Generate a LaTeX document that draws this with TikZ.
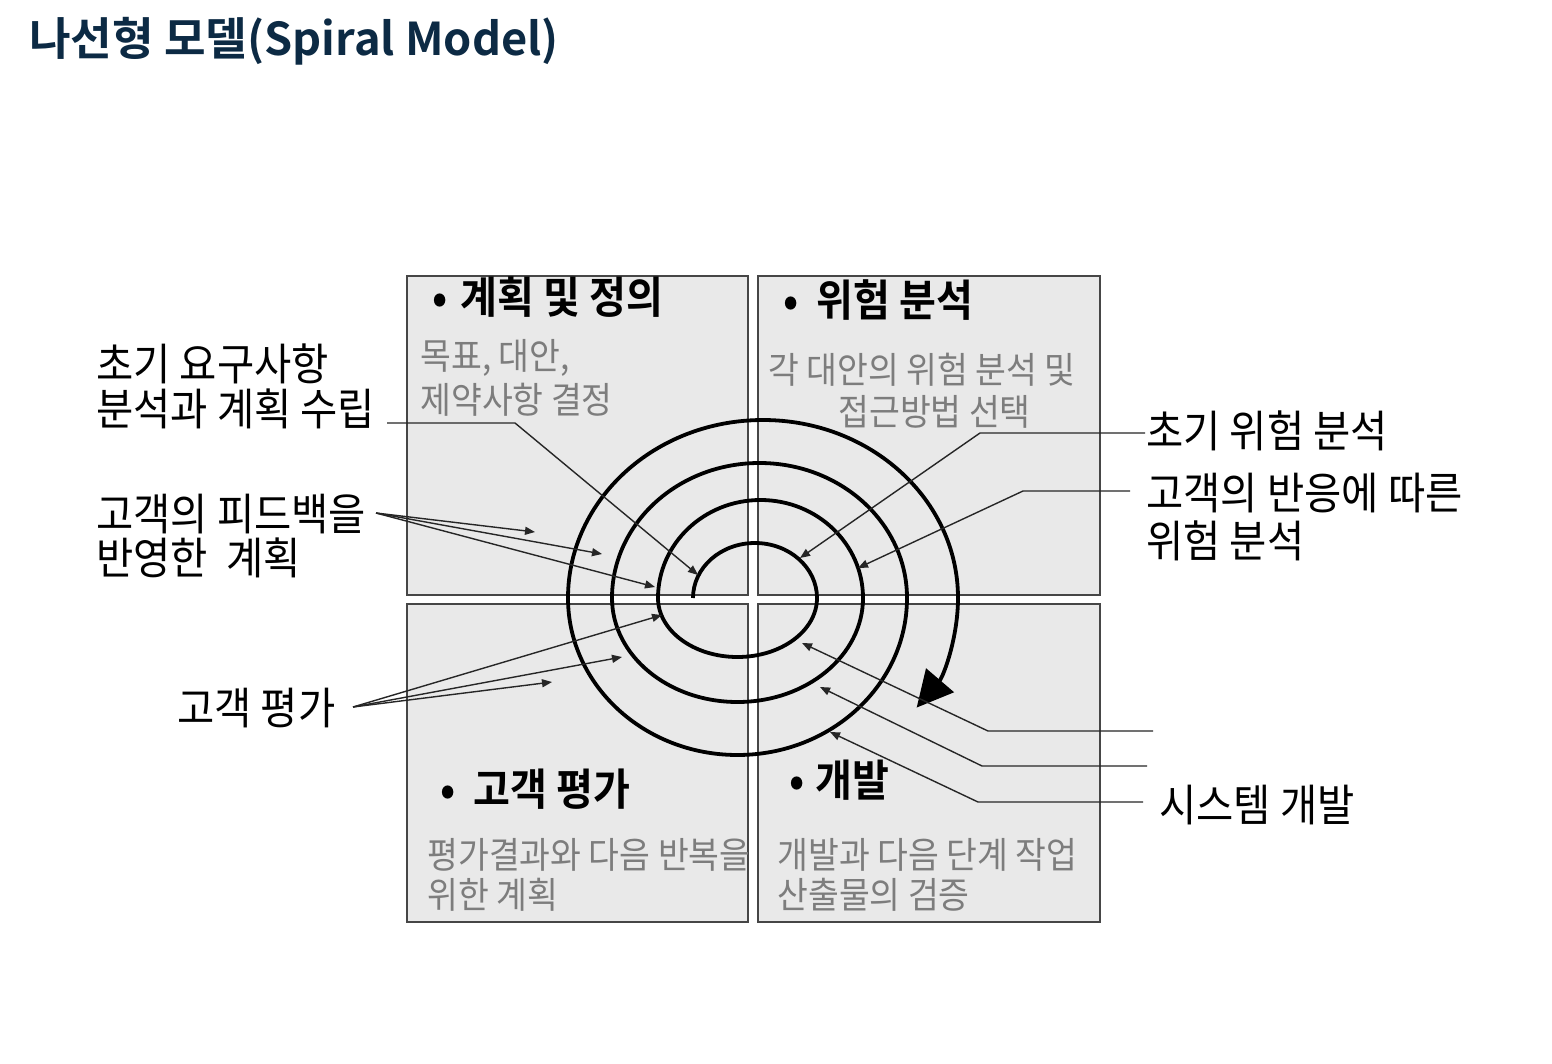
\documentclass[tikz,border=0pt]{standalone}
\usepackage{fontspec}
\usetikzlibrary{arrows.meta}
\newfontfamily\titlefont[BoldFont={* Bold}]{Noto Sans CJK KR}
\newfontfamily\krfont[FakeStretch=0.92,BoldFont={* Bold}]{Noto Sans CJK KR}
\definecolor{navy}{RGB}{12,42,68}
\definecolor{boxfill}{RGB}{233,233,233}
\definecolor{boxline}{RGB}{70,70,70}
\definecolor{graytext}{RGB}{125,125,125}
\tikzset{
  box/.style={draw=boxline, fill=boxfill, line width=0.75pt},
  lbl/.style={font=\krfont\fontsize{22pt}{24pt}\selectfont, anchor=base west, inner sep=0pt, text=black},
  gtxt/.style={font=\krfont\fontsize{18.2pt}{20pt}\selectfont, anchor=base west, inner sep=0pt, text=graytext},
  btitle/.style={font=\krfont\bfseries\fontsize{21.8pt}{24pt}\selectfont, anchor=base west, inner sep=0pt, text=black},
  conn/.style={line width=0.7pt, draw=black!85},
  arr/.style={conn, -{Triangle[length=5pt,width=4pt]}},
  spiral/.style={line width=1.9pt, -{Triangle[length=18pt,width=18pt]}}
}
\begin{document}
\begin{tikzpicture}[x=0.5pt,y=-0.5pt]
\useasboundingbox (0,0) rectangle (1552,1064);
\fill[white] (0,0) rectangle (1552,1064);
% title
\node[font=\titlefont\bfseries\fontsize{22.6pt}{26pt}\selectfont, text=navy, anchor=base west, inner sep=0pt] (title) at (29,56) {나선형 모델(Spiral Model)};
% boxes
\draw[box] (407,276) rectangle (748,595);
\draw[box] (758,276) rectangle (1100,595);
\draw[box] (407,604) rectangle (748,922);
\draw[box] (758,604) rectangle (1100,922);
% box texts
\node[btitle] (t1) at (432,314) {•\hspace{2pt} 계획 및 정의};
\node[gtxt] (g1a) at (420,369) {목표, 대안,};
\node[gtxt] (g1b) at (420,413) {제약사항 결정};
\node[btitle] (t2) at (783,316) {•\hspace{4.5pt} 위험 분석};
\node[gtxt] (g2a) at (768,383) {각 대안의 위험 분석 및};
\node[gtxt] (g2b) at (838,425) {접근방법 선택};
\node[btitle] (t3) at (440,805) {•\hspace{4.5pt} 고객 평가};
\node[gtxt] (g3a) at (427,868) {평가결과와 다음 반복을};
\node[gtxt] (g3b) at (427,908) {위한 계획};
\node[btitle] (t4) at (789,796) {•\hspace{0.8pt} 개발};
\node[gtxt] (g4a) at (777,868) {개발과 다음 단계 작업};
\node[gtxt] (g4b) at (777,908) {산출물의 검증};
% outside labels
\node[lbl] (l1a) at (96,380) {초기 요구사항};
\node[lbl] (l1b) at (96,425) {분석과 계획 수립};
\node[lbl] (l2a) at (96,530) {고객의 피드백을};
\node[lbl] (l2b) at (96,574) {반영한\ \ 계획};
\node[lbl] (l3) at (177,724) {고객 평가};
\node[lbl] (r1) at (1146,447) {초기 위험 분석};
\node[lbl] (r2a) at (1146,509) {고객의 반응에 따른};
\node[lbl] (r2b) at (1146,557) {위험 분석};
\node[lbl] (r3) at (1159,821) {시스템 개발};
% spiral
\coordinate (sp0) at (693,598);
\draw[spiral] (sp0)
  arc[start angle=180,end angle=360,x radius=62,y radius=55]
  arc[start angle=0,end angle=180,x radius=79.5,y radius=59]
  arc[start angle=180,end angle=360,x radius=102.5,y radius=98]
  arc[start angle=0,end angle=180,x radius=125.5,y radius=104]
  arc[start angle=180,end angle=360,x radius=147.5,y radius=135]
  arc[start angle=0,end angle=180,x radius=169.5,y radius=157]
  arc[start angle=180,end angle=398,x radius=195,y radius=178];
% connector coordinates
\coordinate (c1s) at (387,423); \coordinate (c1b) at (515,423); \coordinate (c1t) at (698,575);
\coordinate (fb) at (376,513);
\coordinate (fb1) at (535,532); \coordinate (fb2) at (602,554); \coordinate (fb3) at (655,587);
\coordinate (ev) at (353,707);
\coordinate (ev1) at (552,682); \coordinate (ev2) at (622,657); \coordinate (ev3) at (662,615);
\coordinate (r1s) at (1145,433); \coordinate (r1b) at (980,433); \coordinate (r1t) at (800,558);
\coordinate (r2s) at (1130,491); \coordinate (r2b) at (1023,491); \coordinate (r2t) at (858,568);
\coordinate (s1s) at (1153,731); \coordinate (s1b) at (988,731); \coordinate (s1t) at (802,643);
\coordinate (s2s) at (1147,766); \coordinate (s2b) at (982,766); \coordinate (s2t) at (820,687);
\coordinate (s3s) at (1143,802); \coordinate (s3b) at (978,802); \coordinate (s3t) at (830,732);
% connectors
\draw[arr] (c1s) -- (c1b) -- (c1t);
\draw[arr] (fb) -- (fb1);
\draw[arr] (fb) -- (fb2);
\draw[arr] (fb) -- (fb3);
\draw[arr] (ev) -- (ev1);
\draw[arr] (ev) -- (ev2);
\draw[arr] (ev) -- (ev3);
\draw[arr] (r1s) -- (r1b) -- (r1t);
\draw[arr] (r2s) -- (r2b) -- (r2t);
\draw[arr] (s1s) -- (s1b) -- (s1t);
\draw[arr] (s2s) -- (s2b) -- (s2t);
\draw[arr] (s3s) -- (s3b) -- (s3t);
\end{tikzpicture}
\end{document}
